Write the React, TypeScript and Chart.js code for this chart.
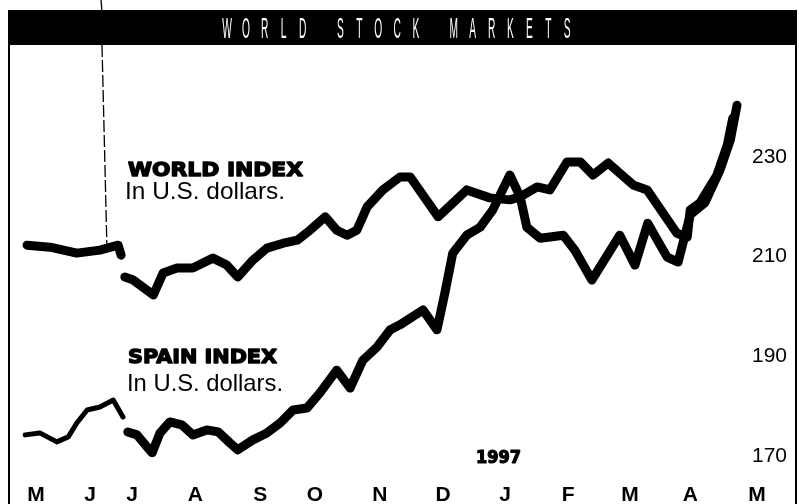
import { useEffect, useRef } from "react";
import { Chart, registerables } from "chart.js";

Chart.register(...registerables);

// ---- data (x = months from May 1996 label, y = index value) ----
const monthLabels = ["M", "J", "J", "A", "S", "O", "N", "D", "J", "F", "M", "A", "M"];
const monthTickPos = [0.26, 1.15, 1.84, 2.88, 3.95, 4.85, 5.92, 6.96, 7.98, 9.02, 10.04, 11.03, 12.13];
const yTicks = [170, 190, 210, 230];

const worldX = [
  0.11, 0.49, 0.93, 1.31, 1.61, 1.66, 1.69, 1.72, 1.86, 2.19, 2.35, 2.58, 2.84, 3.17, 3.4, 3.58, 3.83,
  4.06, 4.33, 4.56, 4.77, 5.02, 5.21, 5.38, 5.54, 5.71, 5.97, 6.25, 6.42, 6.88, 7.35, 7.73, 8.06, 8.23,
  8.51, 8.72, 9.0, 9.22, 9.43, 9.68, 10.09, 10.32, 10.81, 10.98, 11.03, 11.19, 11.47, 11.64, 11.73,
];
const worldY = [
  212.3, 211.9, 210.7, 211.3, 212.3, 210.3, null, 205.9, 205.3, 202.3, 206.7, 207.7, 207.7, 209.7, 208.3, 205.9, 209.3,
  211.7, 212.7, 213.3, 215.3, 218.0, 215.3, 214.3, 215.3, 220.0, 223.4, 226.0, 226.0, 218.0, 223.4, 221.8, 221.4, 222.0,
  224.0, 223.4, 229.0, 229.0, 226.4, 228.8, 224.4, 223.4, 214.7, 213.9, 219.4, 220.8, 226.4, 232.4, 237.8,
];

const spainX = [
  0.08, 0.32, 0.6, 0.79, 0.93, 1.1, 1.31, 1.53, 1.69, 1.73, 1.77, 1.92, 2.17, 2.3, 2.46, 2.66, 2.84, 3.07, 3.26, 3.45,
  3.58, 3.83, 4.06, 4.28, 4.49, 4.72, 4.93, 5.21, 5.43, 5.64, 5.87, 6.09, 6.25, 6.63, 6.86, 6.99, 7.12, 7.35, 7.57, 7.78,
  8.06, 8.23, 8.34, 8.56, 8.94, 9.13, 9.41, 9.87, 10.12, 10.33, 10.65, 10.83, 11.03, 11.27, 11.52, 11.69, 11.8,
];
const spainY = [
  174.2, 174.6, 172.8, 173.8, 176.6, 179.2, 179.8, 181.2, 177.8, null, 174.8, 174.2, 170.6, 174.6, 176.8, 176.2, 174.2, 175.2, 174.8, 172.6,
  171.2, 173.2, 174.6, 176.6, 179.2, 179.6, 182.6, 187.2, 183.6, 189.2, 191.8, 195.3, 196.3, 199.3, 195.3, 202.7, 210.7, 214.3, 215.9, 219.4,
  226.4, 222.0, 215.9, 213.7, 214.3, 211.3, 205.3, 214.3, 208.3, 216.7, 209.9, 208.9, 218.4, 220.8, 227.4, 233.4, 240.4,
];

const titleText = "WORLD STOCK MARKETS";
const worldLabel = "WORLD INDEX";
const spainLabel = "SPAIN INDEX";
const unitLabel = "In U.S. dollars.";
const yearLabel = "1997";

function fitText(
  ctx: CanvasRenderingContext2D,
  text: string,
  x: number,
  yMid: number,
  font: string,
  width: number,
  heavy = 0
) {
  ctx.save();
  ctx.font = font;
  ctx.textBaseline = "middle";
  ctx.textAlign = "left";
  ctx.fillStyle = "#000";
  ctx.strokeStyle = "#000";
  const w = ctx.measureText(text).width;
  ctx.translate(x, yMid);
  ctx.scale(width / w, 1);
  ctx.fillText(text, 0, 0);
  if (heavy > 0) {
    ctx.lineWidth = heavy;
    ctx.lineJoin = "round";
    ctx.strokeText(text, 0, 0);
  }
  ctx.restore();
}

const decorPlugin = {
  id: "decor",
  beforeDraw(chart: any) {
    const ctx: CanvasRenderingContext2D = chart.ctx;
    ctx.save();
    ctx.fillStyle = "#fff";
    ctx.fillRect(0, 0, chart.width, chart.height);
    // frame lines
    ctx.strokeStyle = "#000";
    ctx.lineWidth = 2;
    ctx.beginPath();
    ctx.moveTo(9, 10);
    ctx.lineTo(9, chart.height);
    ctx.moveTo(796, 10);
    ctx.lineTo(796, chart.height);
    ctx.stroke();
    // title bar
    ctx.fillStyle = "#000";
    ctx.fillRect(9, 10, 788, 35);
    // fold line artefact
    ctx.lineWidth = 1.3;
    ctx.beginPath();
    ctx.moveTo(101, 0);
    ctx.lineTo(102, 12);
    ctx.stroke();
    ctx.setLineDash([12, 3]);
    ctx.beginPath();
    ctx.moveTo(102, 45);
    ctx.lineTo(107, 250);
    ctx.stroke();
    ctx.restore();

    // title letters
    ctx.save();
    ctx.fillStyle = "#fff";
    ctx.font = "30px 'Liberation Sans', Arial, sans-serif";
    ctx.textAlign = "center";
    ctx.textBaseline = "middle";
    const chars = titleText.split("");
    chars.forEach((ch, i) => {
      if (ch === " ") return;
      ctx.save();
      ctx.translate(227 + i * 18.9, 30);
      ctx.scale(0.34, 1);
      ctx.fillText(ch, 0, 0);
      ctx.restore();
    });
    ctx.restore();
  },
  afterDraw(chart: any) {
    const ctx: CanvasRenderingContext2D = chart.ctx;
    const bold = "bold 20px 'DejaVu Sans', sans-serif";
    const reg = "24px 'Liberation Sans', Arial, sans-serif";
    fitText(ctx, worldLabel, 128, 171, bold, 175, 1.4);
    fitText(ctx, unitLabel, 125, 192, reg, 160);
    fitText(ctx, spainLabel, 128, 358, bold, 149, 1.4);
    fitText(ctx, unitLabel, 127, 384, reg, 156);
    fitText(ctx, yearLabel, 476, 459, "bold 17px 'DejaVu Sans', sans-serif", 45, 1.2);
  },
};

export default function App() {
  const ref = useRef<HTMLCanvasElement | null>(null);

  useEffect(() => {
    if (!ref.current) return;
    const world = worldX.map((x, i) => ({ x, y: worldY[i] }));
    const spain = spainX.map((x, i) => ({ x, y: spainY[i] }));
    const chart = new Chart(ref.current, {
      type: "line",
      data: {
        datasets: [
          {
            label: "World index",
            data: world as any,
            borderColor: "#000",
            borderWidth: 9,
            borderJoinStyle: "round",
            borderCapStyle: "round",
            pointRadius: 0,
            tension: 0,
            spanGaps: false,
          },
          {
            label: "Spain index",
            data: spain as any,
            borderColor: "#000",
            borderWidth: 9,
            borderJoinStyle: "round",
            borderCapStyle: "round",
            pointRadius: 0,
            tension: 0,
            spanGaps: false,
            segment: {
              borderWidth: (c: any) => (c.p0.parsed.x < 1.75 ? 5 : 9),
            },
          },
        ],
      },
      options: {
        animation: false,
        responsive: true,
        maintainAspectRatio: false,
        layout: { padding: { left: 10, right: 4, top: 47, bottom: 0 } },
        plugins: {
          legend: { display: false },
          tooltip: { enabled: false },
          title: { display: false },
        },
        scales: {
          x: {
            type: "linear",
            min: -0.17,
            max: 12.755,
            grid: { display: false },
            border: { display: false },
            afterBuildTicks: (axis: any) => {
              axis.ticks = monthTickPos.map((v) => ({ value: v }));
            },
            afterFit: (axis: any) => {
              axis.height = 34;
            },
            ticks: {
              autoSkip: false,
              maxRotation: 0,
              minRotation: 0,
              padding: 5,
              color: "#000",
              font: { family: "'Liberation Sans', Arial, sans-serif", size: 21, weight: "bold" },
              callback: (_v: any, idx: number) => monthLabels[idx],
            },
          },
          y: {
            type: "linear",
            position: "right",
            min: 167.15,
            max: 252.1,
            grid: { display: false, drawTicks: false },
            border: { display: false },
            afterBuildTicks: (axis: any) => {
              axis.ticks = yTicks.map((v) => ({ value: v }));
            },
            afterFit: (axis: any) => {
              axis.width = 0;
            },
            ticks: {
              mirror: true,
              padding: -8,
              color: "#000",
              font: { family: "'Liberation Sans', Arial, sans-serif", size: 21 },
              callback: (v: any) => String(v),
            },
          },
        },
      },
      plugins: [decorPlugin],
    });
    return () => chart.destroy();
  }, []);

  return (
    <div style={{ position: "absolute", left: 0, top: 0, width: 799, height: 504 }}>
      <canvas ref={ref} />
    </div>
  );
}
